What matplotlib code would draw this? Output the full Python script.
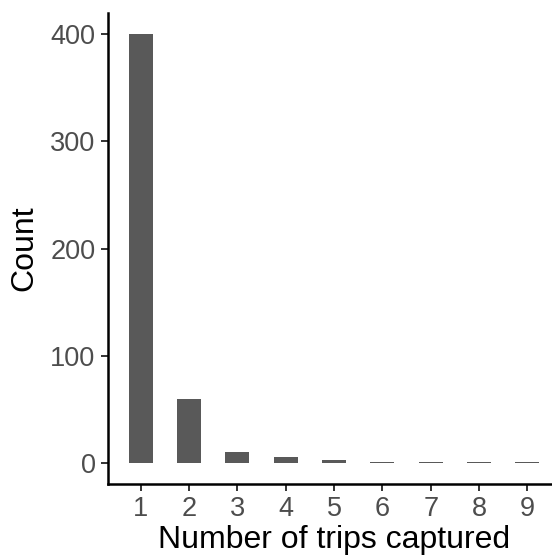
import matplotlib
matplotlib.use("Agg")
import matplotlib.pyplot as plt

plt.rcParams["font.family"] = ["Liberation Sans", "DejaVu Sans"]

# trips captured per individual
n_trips = [1, 2, 3, 4, 5, 6, 7, 8, 9]
counts = [400, 59, 10, 5, 2, 1, 1, 1, 1]

fig = plt.figure(figsize=(5.52, 5.56), dpi=100)
# right edge runs past the figure, as in the cropped original
ax = fig.add_axes([0.1957, 0.1295, 0.8188, 0.8471])

ax.bar(n_trips, counts, width=0.5, color="#595959")

ax.set_xlim(0.325, 9.675)
ax.set_ylim(-20, 420)
ax.set_xticks(n_trips)
ax.set_yticks([0, 100, 200, 300, 400])

for s in ["top", "right"]:
    ax.spines[s].set_visible(False)
for s in ["left", "bottom"]:
    ax.spines[s].set_linewidth(1.8)
    ax.spines[s].set_color("black")

ax.tick_params(axis="both", length=5, width=1.4, color="#333333",
               labelsize=19.5, labelcolor="#4D4D4D", pad=4)

# kept just inside the bottom edge
ax.set_xlabel("Number of trips captured", fontsize=23, labelpad=1.5)
ax.set_ylabel("Count", fontsize=23, labelpad=8)

plt.savefig("out.png", dpi=100)
